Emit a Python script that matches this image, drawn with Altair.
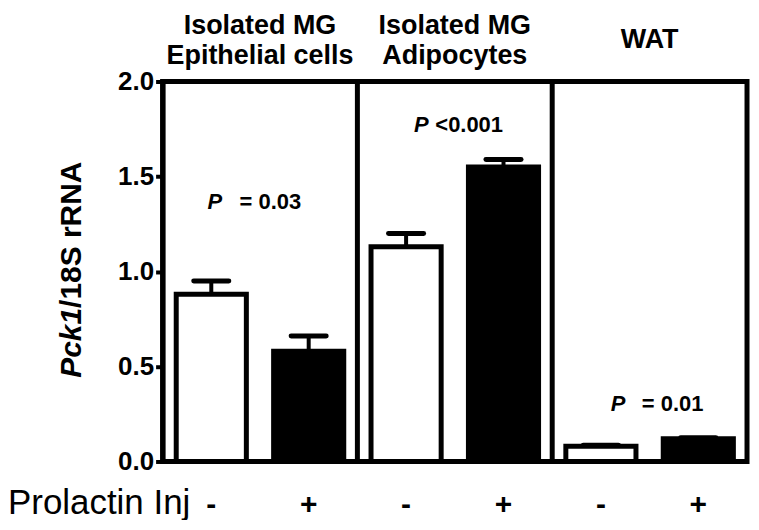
import altair as alt
import pandas as pd

# ---- data ----
title_line1 = ["Isolated MG", "Isolated MG"]
title_line2 = ["Epithelial cells", "Adipocytes"]
title_centers = [1, 3]
title_single = ["WAT"]
title_single_center = [5]
treatment = ["-", "+", "-", "+", "-", "+"]
positions = [0.5, 1.5, 2.5, 3.5, 4.5, 5.5]
means = [0.88, 0.58, 1.13, 1.55, 0.08, 0.12]
errors = [0.07, 0.08, 0.07, 0.04, 0.005, 0.005]
p_rest = ["= 0.03", "<0.001", "= 0.01"]
p_x = [0.46, 2.58, 4.60]
p_rest_x = [0.79, 2.80, 4.92]
p_y = [1.365, 1.77, 0.30]
dividers = [2, 4]
y_ticks = [0, 0.5, 1.0, 1.5, 2.0]

W, H = 586, 381
FONT = "Liberation Sans"

bars_df = pd.DataFrame({"pos": positions, "mean": means, "err": errors, "trt": treatment})
x_scale = alt.Scale(domain=[0, 6], nice=False, zero=False)
y_scale = alt.Scale(domain=[0, 2], nice=False)
y_axis = alt.Axis(values=y_ticks, format=".1f", title=None, grid=False)


def X(field):
    return alt.X(field, scale=x_scale, axis=None)


def Y(field):
    return alt.Y(field, scale=y_scale, axis=y_axis, title=None)


base = alt.Chart(bars_df).transform_calculate(
    x0="datum.pos - 0.36",
    x1="datum.pos + 0.36",
    c0="datum.pos - 0.18",
    c1="datum.pos + 0.18",
    top="datum.mean + datum.err",
)

stems = base.mark_rule(strokeWidth=4, color="black").encode(
    x=X("pos:Q"), y=Y("mean:Q"), y2="top:Q"
)
caps = base.mark_rule(strokeWidth=5, color="black", strokeCap="round").encode(
    x=X("c0:Q"), x2="c1:Q", y=Y("top:Q")
)
bars = base.mark_bar(stroke="black", strokeWidth=5).encode(
    x=X("x0:Q"),
    x2="x1:Q",
    y=Y("mean:Q"),
    y2=alt.datum(0),
    fill=alt.Fill("trt:N", scale=alt.Scale(domain=["-", "+"], range=["white", "black"]), legend=None),
)

div = alt.Chart(pd.DataFrame({"d": dividers})).mark_rule(strokeWidth=5, color="black").encode(
    x=X("d:Q"), y=alt.value(0), y2=alt.value(H)
)

title_style = dict(fontSize=27, fontWeight="bold", font=FONT, baseline="middle", color="black")
t_df = pd.DataFrame({"l1": title_line1, "l2": title_line2, "c": title_centers})
titles_a = alt.Chart(t_df).mark_text(**title_style).encode(
    x=X("c:Q"), y=alt.value(-56), text="l1:N")
titles_b = alt.Chart(t_df).mark_text(**title_style).encode(
    x=X("c:Q"), y=alt.value(-26), text="l2:N")
titles_c = alt.Chart(pd.DataFrame({"t": title_single, "c": title_single_center})).mark_text(
    **title_style).encode(x=X("c:Q"), y=alt.value(-42), text="t:N")

p_df = pd.DataFrame({"px": p_x, "prx": p_rest_x, "py": p_y, "pt": p_rest})
p_italic = alt.Chart(p_df).mark_text(
    align="left", baseline="middle", fontSize=22, fontWeight="bold", fontStyle="italic",
    font=FONT, color="black"
).encode(x=X("px:Q"), y=Y("py:Q"), text=alt.value("P"))
p_text = alt.Chart(p_df).mark_text(
    align="left", baseline="middle", fontSize=22, fontWeight="bold", font=FONT, color="black"
).encode(x=X("prx:Q"), y=Y("py:Q"), text="pt:N")

trt_labels = alt.Chart(bars_df).mark_text(
    fontSize=30, fontWeight="bold", font=FONT, baseline="middle", color="black"
).encode(x=X("pos:Q"), y=alt.value(H + 44), text="trt:N")

inj = alt.Chart(pd.DataFrame({"t": ["Prolactin Inj"]})).mark_text(
    align="left", baseline="alphabetic", fontSize=35, font=FONT, color="black"
).encode(x=alt.value(-155), y=alt.value(H + 53), text="t:N")

ytitle_a = alt.Chart(pd.DataFrame({"t": ["Pck1"]})).mark_text(
    angle=270, align="right", baseline="middle", fontSize=30, fontWeight="bold",
    fontStyle="italic", font=FONT, color="black"
).encode(x=alt.value(-91), y=alt.value(227), text="t:N")
ytitle_b = alt.Chart(pd.DataFrame({"t": ["/18S rRNA"]})).mark_text(
    angle=270, align="left", baseline="middle", fontSize=30, fontWeight="bold",
    font=FONT, color="black"
).encode(x=alt.value(-91), y=alt.value(227), text="t:N")

chart = alt.layer(
    bars, stems, caps, div, titles_a, titles_b, titles_c, p_italic, p_text, trt_labels, inj,
    ytitle_a, ytitle_b
).properties(
    width=W,
    height=H,
    autosize=alt.AutoSizeParams(type="none"),
    padding={"left": 155, "top": 73, "right": 4, "bottom": 58},
).configure_view(
    stroke="black", strokeWidth=5
).configure_axis(
    domainColor="black", domainWidth=5, tickColor="black", tickWidth=4, tickSize=7,
    labelFont=FONT, labelFontSize=26, labelFontWeight="bold", labelColor="black",
    labelPadding=2,
)

chart.save("out.html", embed_options={"renderer": "svg", "actions": False})
